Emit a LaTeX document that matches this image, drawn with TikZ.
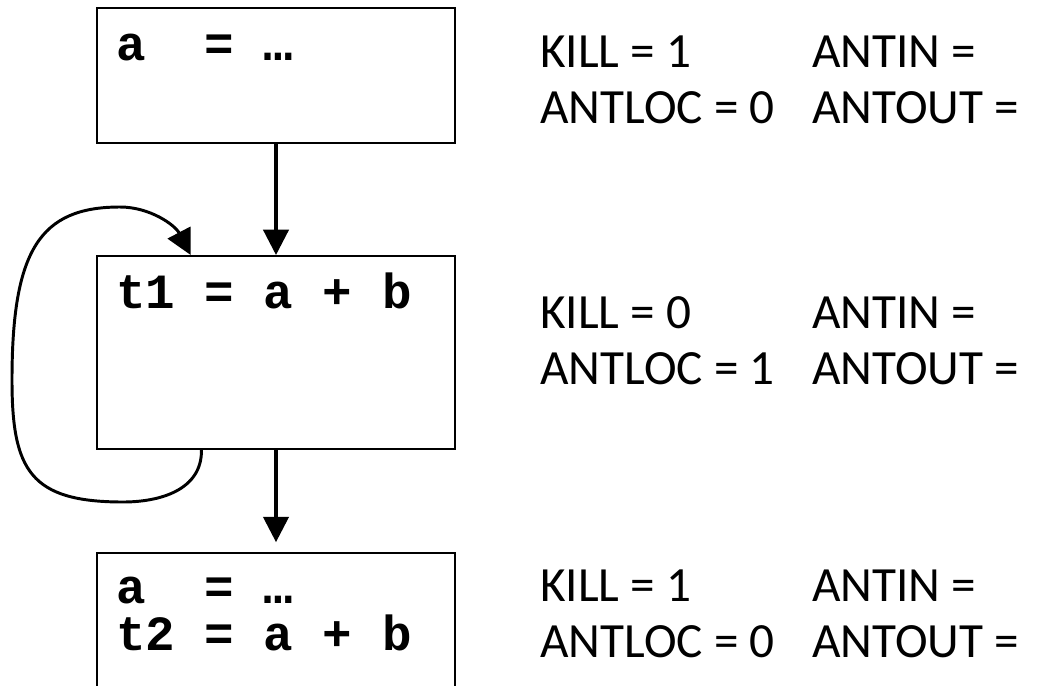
\documentclass[tikz,border=0pt]{standalone}
\usepackage{fontspec}
\setmainfont{Carlito}
\setmonofont{Liberation Mono}
\usetikzlibrary{arrows.meta,calc}

\tikzset{
  block/.style={draw, line width=1.4pt, rectangle, minimum width=8.95cm, inner sep=0pt},
  code/.style={anchor=base west, inner sep=0pt, font=\fontsize{35}{42}\selectfont\ttfamily\bfseries},
  info/.style={anchor=base west, inner sep=0pt, font=\fontsize{35}{42}\selectfont},
  flow/.style={line width=2.3pt, -{Triangle[length=18pt,width=18pt]}}
}

\begin{document}
\begin{tikzpicture}[x=0.025cm, y=-0.025cm]
  \useasboundingbox (0,0) rectangle (1052,685);
  \clip (0,0) rectangle (1052,685);

  % basic blocks
  \node[block, minimum height=3.375cm] (b1) at (276,75.5) {};
  \node[block, minimum height=4.825cm] (b2) at (276,352.5) {};
  \node[block, minimum height=5cm] (b3) at (276,653) {};

  % block contents
  \node[code] (s1) at (116,60) {a~~=~…};
  \node[code] (s2) at (116,308) {t1~=~a~+~b};
  \node[code] (s3) at (116,603) {a~~=~…};
  \node[code] (s4) at (116,650) {t2~=~a~+~b};

  % local properties
  \node[info] (k1) at (540,67) {KILL = 1};
  \node[info] (l1) at (540,123) {ANTLOC = 0};
  \node[info] (i1) at (812,67) {ANTIN =};
  \node[info] (o1) at (812,123) {ANTOUT =};
  \node[info] (k2) at (540,328) {KILL = 0};
  \node[info] (l2) at (540,384) {ANTLOC = 1};
  \node[info] (i2) at (812,328) {ANTIN =};
  \node[info] (o2) at (812,384) {ANTOUT =};
  \node[info] (k3) at (540,601) {KILL = 1};
  \node[info] (l3) at (540,657) {ANTLOC = 0};
  \node[info] (i3) at (812,601) {ANTIN =};
  \node[info] (o3) at (812,657) {ANTOUT =};

  % edges
  \draw[flow] (b1.south) -- (b2.north);
  \draw[flow, shorten >=7pt] (b2.south) -- (b3.north);
  \draw[flow, line width=2.1pt]
    ($(b2.south west)!0.293!(b2.south east)$)
    .. controls (202,490) and (160,502) .. (123,502)
    .. controls (30,502) and (12,470) .. (12,380)
    .. controls (12,250) and (40,207) .. (120,207)
    .. controls (150,207) and (175,225) .. ($(b2.north west)!0.263!(b2.north east)$);
\end{tikzpicture}
\end{document}
